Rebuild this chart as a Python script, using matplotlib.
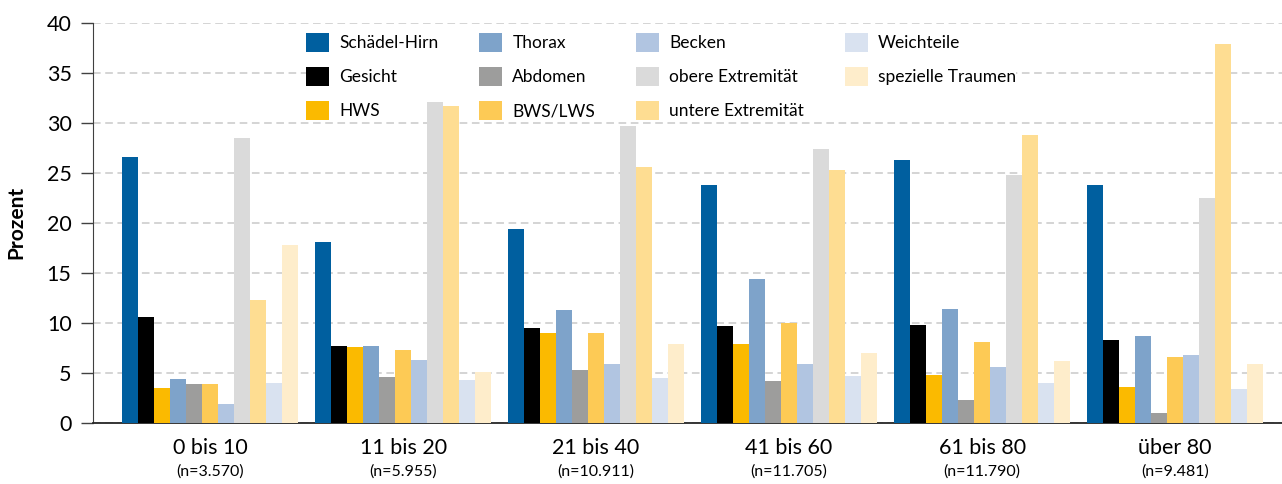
import numpy as np
import matplotlib
matplotlib.use('Agg')
import matplotlib.pyplot as plt

plt.rcParams['font.family'] = ['Lato', 'DejaVu Sans']

# Altersgruppen
altersgruppen = ['0 bis 10', '11 bis 20', '21 bis 40', '41 bis 60', '61 bis 80', 'über 80']
fallzahlen = ['(n=3.570)', '(n=5.955)', '(n=10.911)', '(n=11.705)', '(n=11.790)', '(n=9.481)']

# Verletzungsregionen (Prozent)
schaedel_hirn = [26.6, 18.1, 19.4, 23.8, 26.3, 23.8]
gesicht = [10.6, 7.7, 9.5, 9.7, 9.8, 8.3]
hws = [3.5, 7.6, 9.0, 7.9, 4.8, 3.6]
thorax = [4.4, 7.7, 11.3, 14.4, 11.4, 8.7]
abdomen = [3.9, 4.6, 5.3, 4.2, 2.3, 1.0]
bws_lws = [3.9, 7.3, 9.0, 10.0, 8.1, 6.6]
becken = [1.9, 6.3, 5.9, 5.9, 5.6, 6.8]
obere_extremitaet = [28.5, 32.1, 29.7, 27.4, 24.8, 22.5]
untere_extremitaet = [12.3, 31.7, 25.6, 25.3, 28.8, 37.9]
weichteile = [4.0, 4.3, 4.5, 4.7, 4.0, 3.4]
spezielle_traumen = [17.8, 5.1, 7.9, 7.0, 6.2, 5.9]

serien = [
    ('Schädel-Hirn', schaedel_hirn, '#005F9F'),
    ('Gesicht', gesicht, '#000000'),
    ('HWS', hws, '#FBBA00'),
    ('Thorax', thorax, '#7EA3CA'),
    ('Abdomen', abdomen, '#9D9D9C'),
    ('BWS/LWS', bws_lws, '#FDCA55'),
    ('Becken', becken, '#B1C5E1'),
    ('obere Extremität', obere_extremitaet, '#DADADA'),
    ('untere Extremität', untere_extremitaet, '#FEDD92'),
    ('Weichteile', weichteile, '#D9E2F0'),
    ('spezielle Traumen', spezielle_traumen, '#FEEDCB'),
]

fig = plt.figure(figsize=(12.82, 4.84), dpi=100)
ax = fig.add_axes([93 / 1282, 61 / 484, 1 - 93 / 1282, (423 - 22.7) / 484])

x = np.arange(len(altersgruppen))
breite = 16 / 193
n = len(serien)
for i, (name, werte, farbe) in enumerate(serien):
    ax.bar(x + (i - (n - 1) / 2) * breite, werte, width=breite, color=farbe,
           label=name, zorder=3, linewidth=0)

ax.set_ylim(0, 40)
ax.set_xlim(-0.607, 5.554)
ax.set_yticks(np.arange(0, 41, 5))
ax.yaxis.grid(True, color='#C9C9C9', linestyle=(0, (5, 3)), linewidth=1.1, zorder=0)
ax.set_axisbelow(True)

ax.spines['top'].set_visible(False)
ax.spines['right'].set_visible(False)
ax.spines['left'].set_color('#404040')
ax.spines['bottom'].set_color('#262626')
ax.spines['bottom'].set_linewidth(1.3)

ax.tick_params(axis='y', length=8.4, width=1.0, color='#404040', pad=7, labelsize=15.5)
ax.tick_params(axis='x', length=0, pad=11, labelsize=15.5)
ax.set_xticks(x)
ax.set_xticklabels(altersgruppen)

for xi, txt in zip(x, fallzahlen):
    ax.annotate(txt, xy=(xi, 0), xycoords=('data', 'axes fraction'),
                xytext=(0, -30), textcoords='offset points',
                ha='center', va='top', fontsize=11.5)

ax.set_ylabel('Prozent', fontsize=15, fontweight='bold')
ax.yaxis.set_label_coords(-0.056, 0.5)

# Legende: weisser Hintergrund deckt nur das Gitter ab, Balken liegen davor
leg = ax.legend(ncol=4, loc='upper left', bbox_to_anchor=(297 / 1282, 1 - 24 / 484),
                bbox_transform=fig.transFigure, fontsize=12.5, frameon=True,
                facecolor='white', edgecolor='none', framealpha=1, fancybox=False,
                borderpad=0, handlelength=1.32, handleheight=1.32,
                labelspacing=0.86, handletextpad=0.6, columnspacing=2.35)
leg.set_zorder(2.5)

fig.savefig('out.png', dpi=100)
